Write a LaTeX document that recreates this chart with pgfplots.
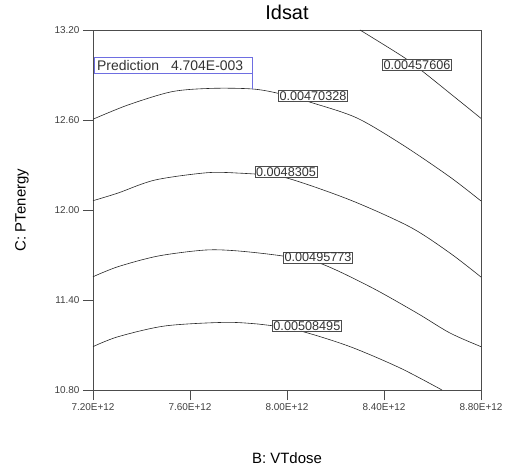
\documentclass[border=0pt]{standalone}
\usepackage{pgfplots}
\pgfplotsset{compat=1.18}
\usepackage{fontspec}
\setmainfont{Liberation Sans}
\begin{document}
\begin{tikzpicture}
\tikzset{cline/.style={black!85, line width=0.6pt, smooth, mark=none}}
\begin{axis}[
 scale only axis, width=388bp, height=360bp,
 xmin=7.2, xmax=8.8, ymin=10.8, ymax=13.2,
 xtick={7.2,7.6,8.0,8.4,8.8},
 xticklabels={7.20E+12,7.60E+12,8.00E+12,8.40E+12,8.80E+12},
 ytick={10.8,11.4,12.0,12.6,13.2},
 yticklabels={10.80,11.40,12.00,12.60,13.20},
 tick align=outside, tick pos=left, major tick length=10bp,
 tick label style={font=\fontsize{10}{11}\selectfont, text=black!75},
 axis line style={black!70, line width=0.8pt},
 tick style={black!70, line width=0.8pt},
 title={Idsat},
 title style={at={(axis description cs:0.5,1.0139)}, anchor=base, inner sep=0pt, font=\fontsize{20}{22}\selectfont},
 xlabel={B: VTdose}, ylabel={C: PTenergy},
 xlabel style={at={(axis description cs:0.5,-0.2028)}, anchor=base, inner sep=0pt, font=\fontsize{15}{16}\selectfont},
 ylabel style={at={(axis description cs:-0.183,0.5)}, anchor=center, inner sep=0pt, font=\fontsize{15}{16}\selectfont},
]
% 0.00457606
\addplot[cline] coordinates {(8.301,13.2) (8.478,13.022) (8.561,12.922) (8.672,12.778) (8.8,12.611)};
% 0.00470328
\addplot[cline] coordinates {(7.2,12.605) (7.344,12.70) (7.526,12.789) (7.691,12.811) (7.856,12.807) (7.963,12.778) (8.107,12.713) (8.289,12.613) (8.478,12.433) (8.672,12.22) (8.8,12.06)};
% 0.0048305
\addplot[cline] coordinates {(7.2,12.062) (7.303,12.113) (7.456,12.20) (7.674,12.249) (7.814,12.245) (7.868,12.24) (8.0,12.213) (8.260,12.067) (8.507,11.887) (8.672,11.713) (8.8,11.553)};
% 0.00495773
\addplot[cline] coordinates {(7.2,11.555) (7.303,11.622) (7.468,11.693) (7.662,11.733) (7.798,11.727) (7.984,11.693) (8.136,11.645) (8.342,11.489) (8.536,11.313) (8.672,11.18) (8.8,11.089)};
% 0.00508495
\addplot[cline] coordinates {(7.2,11.089) (7.303,11.155) (7.497,11.227) (7.744,11.251) (7.880,11.24) (7.938,11.229) (8.066,11.189) (8.260,11.089) (8.466,10.947) (8.639,10.8)};

\tikzset{clab/.style={draw=black!70, fill=white, text=black!80, inner sep=1.2pt, line width=0.6pt, font=\fontsize{12.7}{13}\selectfont}}
\node[clab] at (axis cs:8.536,12.967) {0.00457606};
\node[clab] at (axis cs:8.107,12.76) {0.00470328};
\node[clab] at (axis cs:7.996,12.253) {0.0048305};
\node[clab] at (axis cs:8.128,11.683) {0.00495773};
\node[clab] at (axis cs:8.082,11.227) {0.00508495};

\definecolor{predblue}{RGB}{110,110,225}
\draw[predblue, line width=0.7pt, fill=white] (axis cs:7.204,13.02) rectangle (axis cs:7.856,12.913);
\draw[predblue, line width=0.7pt] (axis cs:7.856,12.913) -- (axis cs:7.856,12.807);
\node[anchor=west, inner sep=0pt, text=black!80, font=\fontsize{14}{15}\selectfont] at (axis cs:7.216,12.9665) {Prediction\hspace{12bp}4.704E-003};

\coordinate (ll) at (rel axis cs:0,0);
\coordinate (ur) at (rel axis cs:1,1);
\end{axis}
\pgfresetboundingbox
\path ([shift={(-93bp,-82bp)}]ll) rectangle ([shift={(31bp,30bp)}]ur);
\end{tikzpicture}
\end{document}
